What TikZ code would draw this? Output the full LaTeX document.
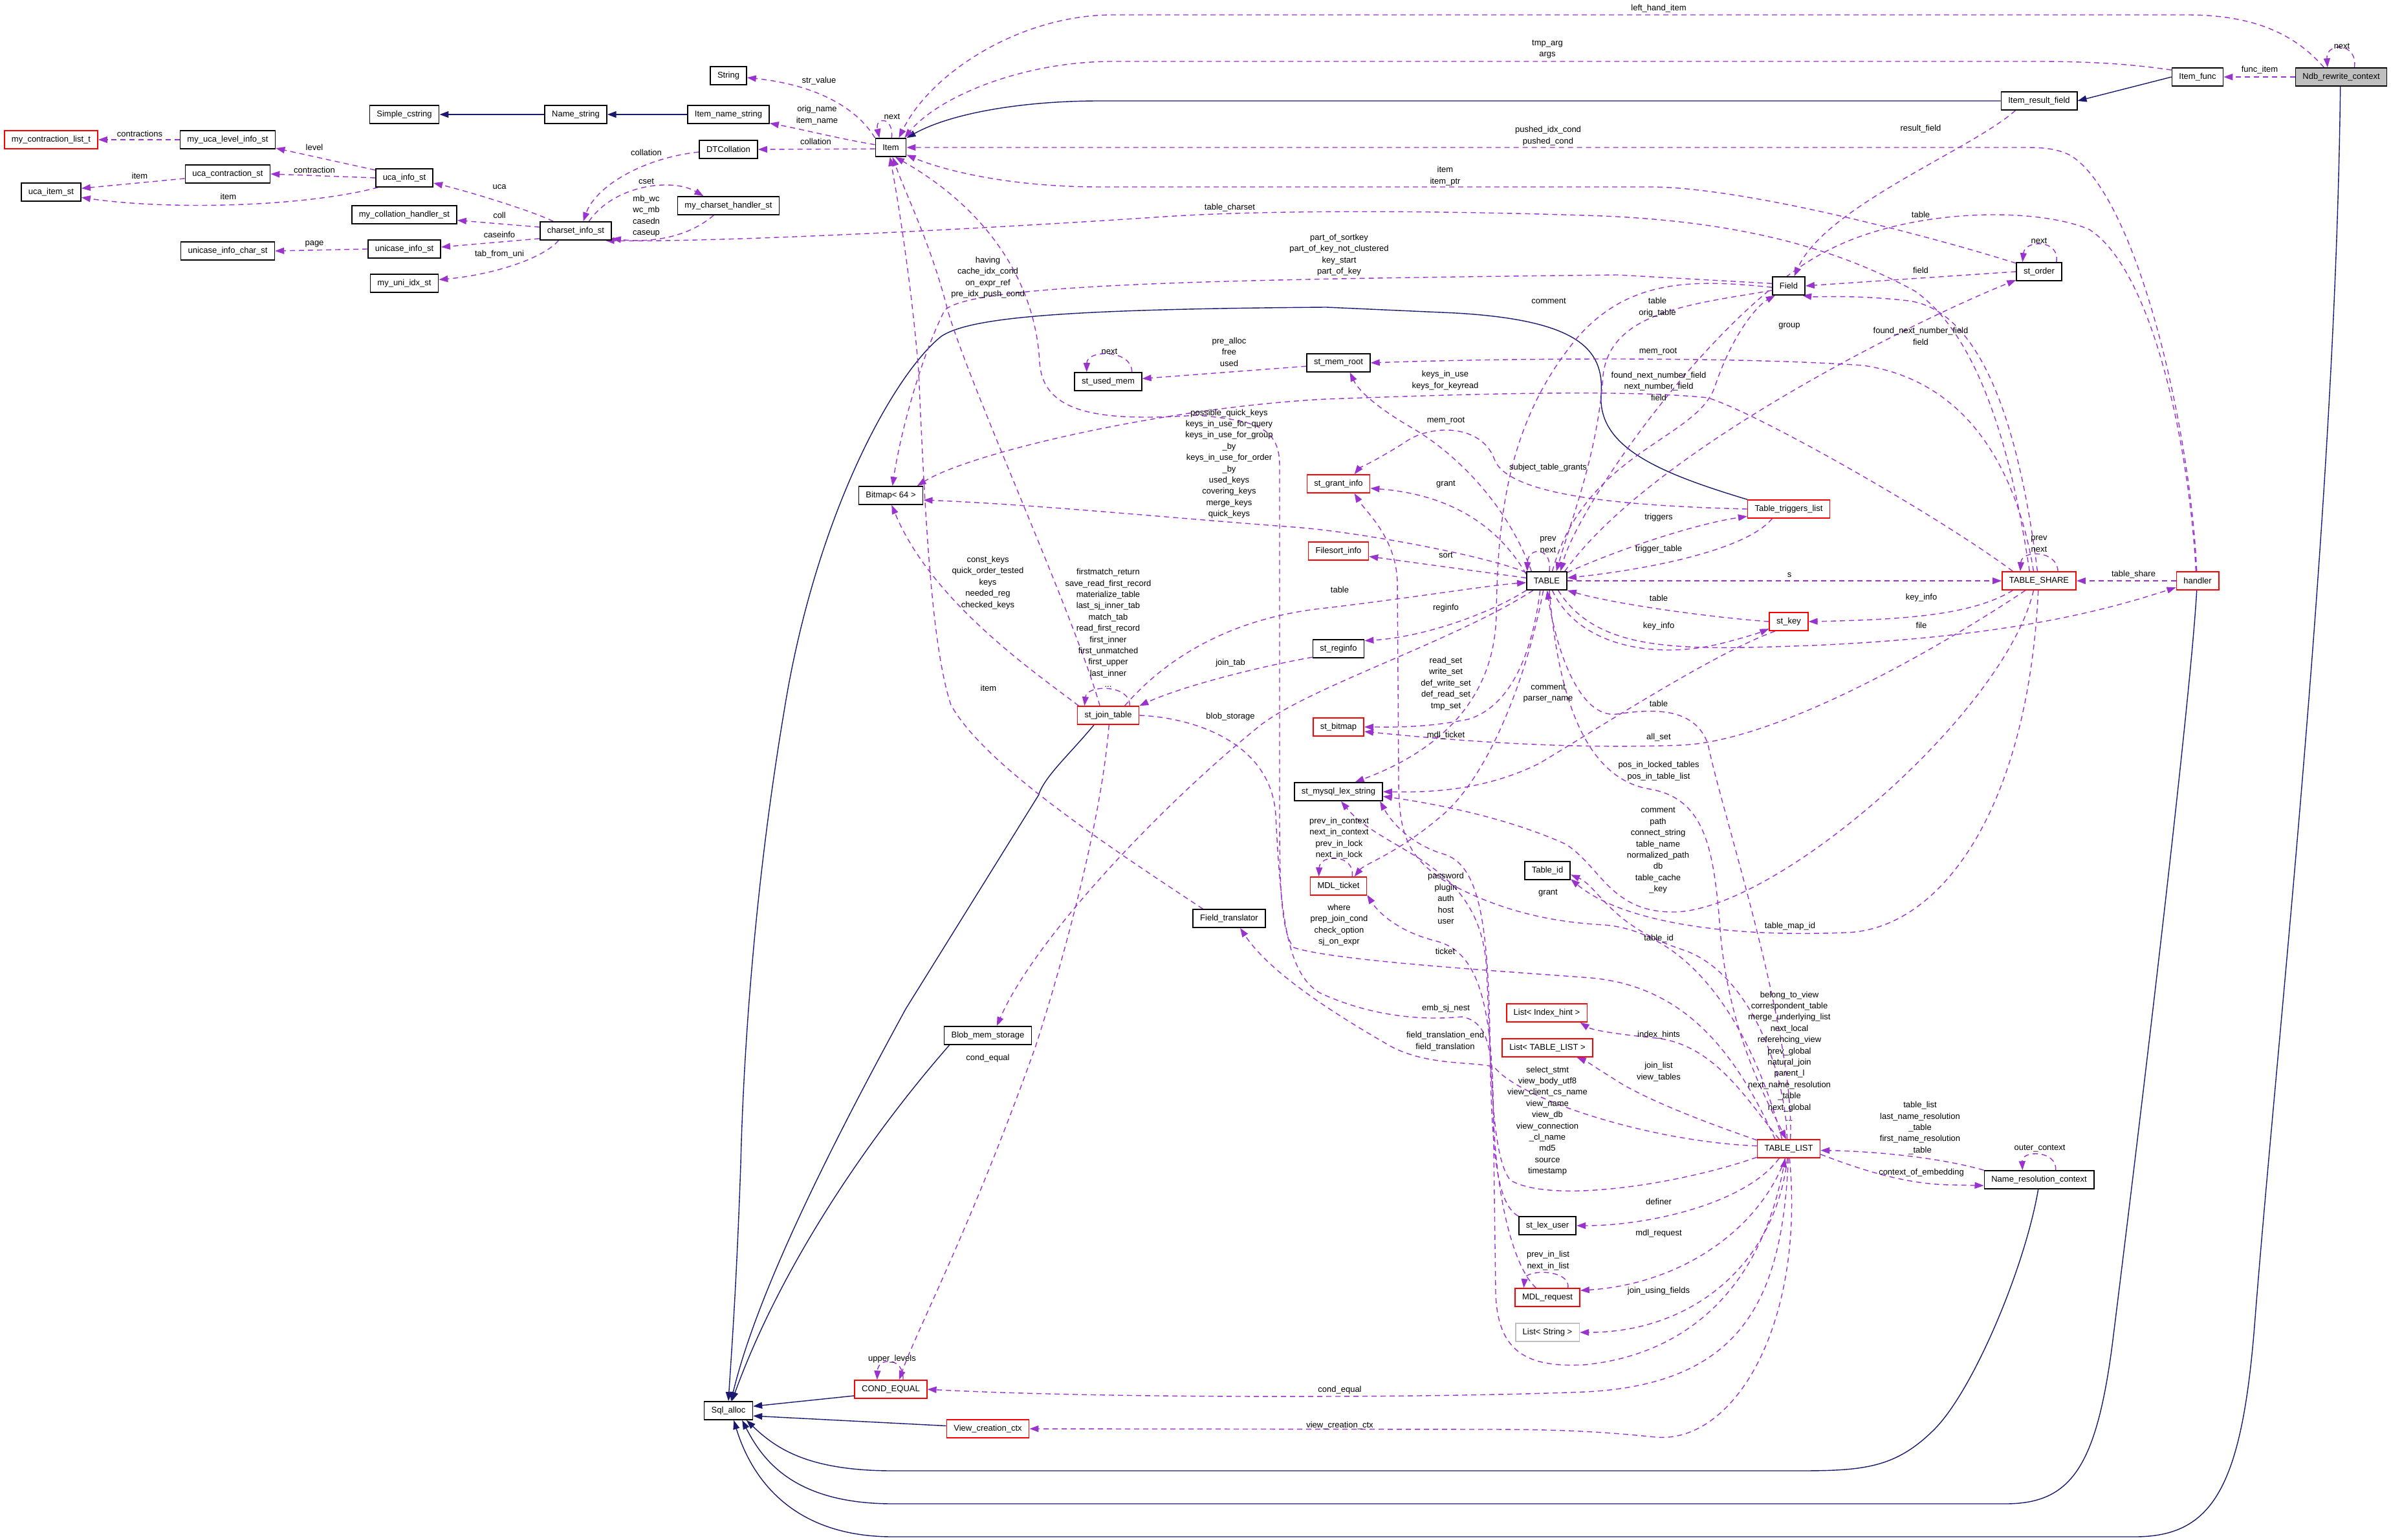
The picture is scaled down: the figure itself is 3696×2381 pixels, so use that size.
\documentclass[tikz,border=0pt]{standalone}
\usepackage{fontspec}
\setmainfont{Liberation Sans}
\usetikzlibrary{arrows.meta}
\pgfdeclarelayer{bg}
\pgfsetlayers{bg,main}
\definecolor{purp}{HTML}{9A32CD}
\definecolor{inhc}{HTML}{191970}
\definecolor{redb}{HTML}{FF0000}
\definecolor{grayb}{HTML}{BFBFBF}
\newcommand\dxf{\fontsize{6.5pt}{8.7pt}\selectfont}
\tikzset{
  cls/.style={draw=black, line width=0.8pt, fill=white, font=\dxf, inner xsep=5.5pt, inner ysep=0pt, minimum height=14pt},
  rcls/.style={cls, draw=redb},
  pe/.style={draw=purp, line width=0.7pt, dash pattern=on 4pt off 3pt, -{Triangle[length=7pt,width=5pt]}},
  ih/.style={draw=inhc, line width=0.7pt, -{Triangle[length=7pt,width=5pt]}},
  lb/.style={font=\dxf, align=center, inner sep=0pt},
}
\begin{document}
\begin{tikzpicture}[x=0.5pt,y=-0.5pt]
\path[use as bounding box] (0,0) rectangle (3696,2381);
% ---------------- nodes ----------------
\node[cls] (Str) at (1126,117) {String};
\node[cls] (SimpleC) at (625,177) {Simple\_cstring};
\node[cls] (NameS) at (890,177) {Name\_string};
\node[cls] (ItemNS) at (1126,177) {Item\_name\_string};
\node[cls] (Item) at (1377,228) {Item};
\node[rcls] (MyContr) at (79,216) {my\_contraction\_list\_t};
\node[cls] (MyUcaLvl) at (352,216) {my\_uca\_level\_info\_st};
\node[cls] (UcaContr) at (352,269) {uca\_contraction\_st};
\node[cls] (UcaItem) at (79,297) {uca\_item\_st};
\node[cls] (UcaInfo) at (625,275) {uca\_info\_st};
\node[cls] (DTColl) at (1126,231) {DTCollation};
\node[cls] (MyCsH) at (1126,318) {my\_charset\_handler\_st};
\node[cls] (CsInfo) at (890,357) {charset\_info\_st};
\node[cls] (MyCollH) at (625,332) {my\_collation\_handler\_st};
\node[cls] (UniInfo) at (625,385) {unicase\_info\_st};
\node[cls] (UniChar) at (352,388) {unicase\_info\_char\_st};
\node[cls] (MyUniIdx) at (625,438) {my\_uni\_idx\_st};
\node[cls, fill=grayb] (Ndb) at (3619,119) {Ndb\_rewrite\_context};
\node[cls] (ItemFunc) at (3397,119) {Item\_func};
\node[cls] (ItemRF) at (3152,156) {Item\_result\_field};
\node[cls] (Field) at (2765,442) {Field};
\node[cls] (StOrder) at (3152,420) {st\_order};
\node[cls] (StUsedMem) at (1713,590) {st\_used\_mem};
\node[cls] (Bitmap) at (1377,766) {Bitmap< 64 >};
\node[cls] (StMemRoot) at (2069,561) {st\_mem\_root};
\node[rcls] (StGrant) at (2069,748) {st\_grant\_info};
\node[rcls] (Filesort) at (2069,852) {Filesort\_info};
\node[cls] (StReginfo) at (2069,1003) {st\_reginfo};
\node[cls] (TABLE) at (2391,898) {TABLE};
\node[rcls] (TTL) at (2765,787) {Table\_triggers\_list};
\node[rcls] (StKey) at (2765,961) {st\_key};
\node[rcls] (TS) at (3152,898) {TABLE\_SHARE};
\node[rcls] (Handler) at (3397,898) {handler};
\node[rcls] (SJT) at (1713,1106) {st\_join\_table};
\node[cls] (FTr) at (1900,1420) {Field\_translator};
\node[cls] (Blob) at (1527,1601) {Blob\_mem\_storage};
\node[rcls] (StBitmap) at (2069,1124) {st\_bitmap};
\node[cls] (LexStr) at (2069,1224) {st\_mysql\_lex\_string};
\node[rcls] (MDLt) at (2069,1370) {MDL\_ticket};
\node[cls] (TableId) at (2392,1346) {Table\_id};
\node[rcls] (LIH) at (2391,1566) {List< Index\_hint >};
\node[rcls] (LTL) at (2392,1620) {List< TABLE\_LIST >};
\node[rcls] (TL) at (2765,1776) {TABLE\_LIST};
\node[cls] (LexUser) at (2392,1895) {st\_lex\_user};
\node[rcls] (MDLr) at (2392,2006) {MDL\_request};
\node[cls, draw=grayb] (LStr) at (2392,2060) {List< String >};
\node[cls] (NRC) at (3152,1824) {Name\_resolution\_context};
\node[cls] (SqlAlloc) at (1126,2181) {Sql\_alloc};
\node[rcls] (CondEq) at (1377,2148) {COND\_EQUAL};
\node[rcls] (VCC) at (1527,2209) {View\_creation\_ctx};

\begin{pgfonlayer}{bg}
\fill[white] (0,0) rectangle (3696,2381);
% ---------------- inheritance ----------------
\draw[ih] (NameS.west) -- (SimpleC.east);
\draw[ih] (ItemNS.west) -- (NameS.east);
\draw[ih] (ItemRF.west) -- (1700,156) .. controls (1580,156) and (1470,175) .. (Item.north east);
\draw[ih] (ItemFunc.west) -- (ItemRF.east);
\draw[ih] (TTL.north west) .. controls (2560,730) and (2470,690) .. (2475,610) .. controls (2480,540) and (2440,495) .. (2250,484) -- (2050,475) .. controls (1650,478) and (1500,490) .. (1455,520) .. controls (1380,580) and (1260,800) .. (1212,1100) .. controls (1170,1350) and (1150,1600) .. (1145,1800) .. controls (1138,2000) and (1130,2100) .. (SqlAlloc.north);
\draw[ih] (SJT.214) .. controls (1650,1170) and (1615,1200) .. (1605,1230) -- (1400,1560) .. controls (1280,1780) and (1170,2000) .. (SqlAlloc.75);
\draw[ih] (Blob.194) .. controls (1350,1750) and (1210,1950) .. (SqlAlloc.70);
\draw[ih] (CondEq.190) -- (SqlAlloc.10);
\draw[ih] (VCC.176) -- (SqlAlloc.-12);
\draw[ih] (NRC.-95) .. controls (3130,1960) and (3050,2150) .. (2990,2210) .. controls (2930,2270) and (2880,2274) .. (2780,2274) -- (1380,2274) .. controls (1250,2274) and (1200,2240) .. (SqlAlloc.-28);
\draw[ih] (Handler.-95) .. controls (3385,1100) and (3300,1800) .. (3265,2080) .. controls (3240,2270) and (3200,2325) .. (3100,2325) -- (1380,2325) .. controls (1230,2325) and (1180,2260) .. (SqlAlloc.-35);
\draw[ih] (Ndb.-95) .. controls (3610,800) and (3520,1600) .. (3485,2050) .. controls (3465,2300) and (3420,2376) .. (3300,2376) -- (1380,2376) .. controls (1220,2376) and (1160,2280) .. (SqlAlloc.-61);
% ---------------- usage: top-left cluster ----------------
\draw[pe] (MyUcaLvl.west) -- (MyContr.east);
\draw[pe] (UcaInfo.165) -- (MyUcaLvl.-10);
\draw[pe] (UcaInfo.west) -- (UcaContr.east);
\draw[pe] (UcaContr.186) -- (UcaItem.7);
\draw[pe] (UcaInfo.200) .. controls (470,320) and (260,325) .. (UcaItem.-10);
\draw[pe] (CsInfo.157) .. controls (820,325) and (720,295) .. (UcaInfo.-10);
\draw[pe] (CsInfo.174) -- (MyCollH.-6);
\draw[pe] (CsInfo.192) -- (UniInfo.3);
\draw[pe] (UniInfo.west) -- (UniChar.east);
\draw[pe] (CsInfo.209) .. controls (840,400) and (760,425) .. (MyUniIdx.6);
\draw[pe] (DTColl.185) .. controls (990,245) and (920,290) .. (CsInfo.52);
\draw[pe] (CsInfo.36) .. controls (950,285) and (1040,275) .. (MyCsH.159);
\draw[pe] (MyCsH.213) .. controls (1060,370) and (1000,375) .. (CsInfo.-12);
\draw[pe] (TS.135) .. controls (3110,700) and (3060,520) .. (2960,450) .. controls (2850,390) and (2700,340) .. (2450,333) .. controls (2200,325) and (1950,325) .. (1800,335) .. controls (1500,355) and (1100,375) .. (CsInfo.-18);
% ---------------- Item ----------------
\draw[pe] (Item.north west) .. controls (1320,160) and (1250,130) .. (Str.-6);
\draw[pe] (Item.170) .. controls (1300,215) and (1240,200) .. (ItemNS.-12);
\draw[pe] (Item.185) -- (DTColl.east);
\draw[pe] (Item.85) .. controls (1382,180) and (1352,180) .. (Item.140);
\draw[pe] (Ndb.151) .. controls (3545,50) and (3480,23) .. (3380,23) -- (1720,23) .. controls (1580,23) and (1440,110) .. (Item.50);
\draw[pe] (ItemFunc.165) .. controls (3300,100) and (3240,95) .. (3150,95) -- (1720,95) .. controls (1580,95) and (1450,150) .. (Item.35);
\draw[pe] (Ndb.west) -- (ItemFunc.east);
\draw[pe] (Ndb.36) .. controls (3645,65) and (3595,65) .. (Ndb.145);
\draw[pe] (Handler.95) .. controls (3385,650) and (3300,300) .. (3200,240) .. controls (3180,230) and (3160,228) .. (3130,228) -- (Item.east);
\draw[pe] (StOrder.160) .. controls (3000,370) and (2700,289) .. (2550,289) -- (1700,289) .. controls (1550,289) and (1450,260) .. (Item.-25);
\draw[pe] (SJT.131) .. controls (1660,950) and (1500,600) .. (1465,480) .. controls (1440,380) and (1400,300) .. (Item.-80);
\draw[pe] (FTr.160) .. controls (1700,1300) and (1520,1180) .. (1470,1090) .. controls (1440,1000) and (1430,800) .. (1420,574) .. controls (1410,450) and (1390,320) .. (Item.-95);
\draw[pe] (TL.145) .. controls (2680,1620) and (2600,1525) .. (2460,1512) .. controls (2300,1500) and (2060,1485) .. (2000,1465) .. controls (1978,1440) and (1978,1350) .. (1978,1250) -- (1978,720) .. controls (1978,660) and (1940,650) .. (1850,642) .. controls (1700,652) and (1612,640) .. (1607,560) .. controls (1600,430) and (1520,320) .. (Item.-65);
% ---------------- Field / st_order ----------------
\draw[pe] (ItemRF.202) .. controls (3050,230) and (2820,320) .. (Field.60);
\draw[pe] (StOrder.west) -- (Field.east);
\draw[pe] (StOrder.29) .. controls (3185,370) and (3130,370) .. (StOrder.150);
\draw[pe] (TABLE.28) .. controls (2550,700) and (2950,500) .. (StOrder.200);
\draw[pe] (Field.195) .. controls (2620,470) and (2490,480) .. (2478,580) .. controls (2470,700) and (2430,800) .. (TABLE.45);
\draw[pe] (TABLE.60) .. controls (2450,700) and (2620,680) .. (2650,600) .. controls (2680,510) and (2720,470) .. (Field.215);
\draw[pe] (TS.100) .. controls (3120,650) and (3060,480) .. (2950,465) .. controls (2860,455) and (2810,460) .. (Field.325);
\draw[pe] (Field.172) -- (2500,425) .. controls (1900,432) and (1500,438) .. (1460,480) .. controls (1420,560) and (1390,680) .. (Bitmap.80);
\draw[pe] (Field.185) .. controls (2620,432) and (2520,430) .. (2440,520) .. controls (2330,650) and (2315,800) .. (2313,950) .. controls (2310,1100) and (2200,1170) .. (LexStr.30);
% ---------------- TABLE ----------------
\draw[pe] (TABLE.75) .. controls (2400,845) and (2362,845) .. (TABLE.154);
\draw[pe] (TABLE.148) .. controls (2330,780) and (2250,700) .. (2180,660) .. controls (2120,625) and (2098,600) .. (StMemRoot.-40);
\draw[pe] (TS.120) .. controls (3120,740) and (3050,590) .. (2880,565) .. controls (2700,552) and (2350,553) .. (StMemRoot.east);
\draw[pe] (StMemRoot.186) -- (StUsedMem.5);
\draw[pe] (StUsedMem.22) .. controls (1750,540) and (1680,540) .. (StUsedMem.156);
\draw[pe] (TTL.west) .. controls (2500,782) and (2330,765) .. (2310,710) .. controls (2290,655) and (2210,655) .. (2170,685) .. controls (2130,710) and (2100,725) .. (StGrant.31);
\draw[pe] (TABLE.162) .. controls (2320,820) and (2250,765) .. (StGrant.-8);
\draw[pe] (TABLE.172) -- (Filesort.-10);
\draw[pe] (TABLE.205) .. controls (2300,950) and (2200,985) .. (StReginfo.17);
\draw[pe] (TABLE.235) .. controls (2370,1000) and (2340,1090) .. (2270,1112) .. controls (2200,1126) and (2150,1124) .. (StBitmap.east);
\draw[pe] (TS.215) .. controls (3000,1000) and (2750,1145) .. (2600,1152) .. controls (2400,1160) and (2200,1140) .. (StBitmap.-10);
\draw[pe] (TABLE.250) .. controls (2360,1050) and (2300,1200) .. (2230,1260) .. controls (2160,1320) and (2110,1335) .. (MDLt.31);
\draw[pe] (TABLE.22) .. controls (2500,850) and (2620,810) .. (TTL.190);
\draw[pe] (TTL.210) .. controls (2700,850) and (2550,880) .. (TABLE.8);
\draw[pe] (TABLE.east) -- (TS.west);
\draw[pe] (StKey.180) .. controls (2650,955) and (2500,935) .. (TABLE.-25);
\draw[pe] (TABLE.-60) .. controls (2440,1000) and (2560,1020) .. (2660,995) .. controls (2700,985) and (2720,978) .. (StKey.200);
\draw[pe] (TS.200) .. controls (3050,950) and (2950,958) .. (StKey.east);
\draw[pe] (Handler.west) -- (TS.east);
\draw[pe] (TABLE.-40) .. controls (2470,1010) and (2600,1005) .. (2800,998) .. controls (3100,985) and (3250,945) .. (Handler.197);
\draw[pe] (Handler.100) .. controls (3385,700) and (3330,420) .. (3230,355) .. controls (3150,320) and (2950,320) .. (2820,390) .. controls (2650,480) and (2440,780) .. (TABLE.35);
\draw[pe] (TS.27) .. controls (3180,850) and (3125,850) .. (TS.153);
\draw[pe] (TABLE.158) .. controls (2300,860) and (2100,822) .. (2000,815) .. controls (1800,800) and (1600,780) .. (Bitmap.-8);
\draw[pe] (TS.160) .. controls (3000,800) and (2720,640) .. (2640,615) .. controls (2500,600) and (2200,612) .. (2050,617) .. controls (1800,630) and (1500,700) .. (Bitmap.20);
\draw[pe] (TABLE.215) .. controls (2250,990) and (2030,1060) .. (1950,1120) .. controls (1800,1240) and (1600,1450) .. (Blob.47);
% ---------------- st_join_table ----------------
\draw[pe] (SJT.162) .. controls (1600,1040) and (1440,930) .. (Bitmap.-85);
\draw[pe] (SJT.24) .. controls (1748,1058) and (1680,1058) .. (SJT.158);
\draw[pe] (StReginfo.198) .. controls (1950,1030) and (1830,1060) .. (SJT.north east);
\draw[pe] (SJT.30) .. controls (1800,1020) and (1900,955) .. (2050,940) .. controls (2200,922) and (2300,905) .. (TABLE.185);
\draw[pe] (SJT.-85) .. controls (1700,1300) and (1620,1560) .. (1600,1620) .. controls (1500,1900) and (1420,2050) .. (CondEq.49);
\draw[pe] (CondEq.38) .. controls (1398,2098) and (1357,2098) .. (CondEq.145);
\draw[pe] (SJT.0) .. controls (1850,1110) and (1965,1150) .. (1972,1260) .. controls (1980,1420) and (1990,1505) .. (2040,1535) .. controls (2120,1572) and (2200,1578) .. (2260,1572) .. controls (2300,1580) and (2306,1620) .. (2308,1700) -- (2312,2000) .. controls (2315,2090) and (2360,2115) .. (2450,2110) .. controls (2600,2095) and (2720,2000) .. (TL.-110);
% ---------------- lex strings / MDL ----------------
\draw[pe] (StKey.215) .. controls (2650,1010) and (2480,1120) .. (2380,1180) .. controls (2290,1225) and (2200,1225) .. (LexStr.0);
\draw[pe] (TS.240) .. controls (3100,1100) and (2750,1405) .. (2590,1410) .. controls (2490,1412) and (2475,1340) .. (2420,1305) .. controls (2320,1260) and (2200,1240) .. (LexStr.-6);
\draw[pe] (LexUser.north west) .. controls (2310,1860) and (2305,1760) .. (2303,1600) .. controls (2300,1420) and (2285,1335) .. (2230,1320) .. controls (2180,1305) and (2150,1270) .. (LexStr.-13);
\draw[pe] (TL.195) .. controls (2600,1830) and (2400,1862) .. (2335,1825) .. controls (2305,1790) and (2305,1650) .. (2298,1500) .. controls (2290,1330) and (2140,1320) .. (LexStr.-75);
\draw[pe] (MDLr.140) .. controls (2340,1960) and (2310,1850) .. (2308,1700) .. controls (2305,1540) and (2280,1470) .. (2220,1455) .. controls (2160,1440) and (2130,1410) .. (MDLt.-17);
\draw[pe] (MDLt.35) .. controls (2095,1320) and (2040,1320) .. (MDLt.154);
\draw[pe] (MDLr.25) .. controls (2428,1962) and (2358,1962) .. (MDLr.158);
\draw[pe] (TL.125) .. controls (2700,1560) and (2600,1440) .. (2480,1430) .. controls (2380,1425) and (2300,1400) .. (2230,1360) .. controls (2170,1320) and (2162,1280) .. (2162,1200) -- (2160,900) .. controls (2158,830) and (2110,790) .. (StGrant.-31);
% ---------------- TABLE_LIST ----------------
\draw[pe] (TL.135) .. controls (2700,1700) and (2650,1615) .. (2560,1605) .. controls (2490,1598) and (2460,1592) .. (LIH.-16);
\draw[pe] (TL.165) .. controls (2650,1740) and (2540,1700) .. (2490,1665) .. controls (2465,1650) and (2455,1642) .. (LTL.-18);
\draw[pe] (TL.225) .. controls (2700,1860) and (2550,1895) .. (LexUser.east);
\draw[pe] (TL.250) .. controls (2720,1900) and (2600,1985) .. (MDLr.12);
\draw[pe] (TL.262) .. controls (2745,1950) and (2620,2060) .. (LStr.east);
\draw[pe] (TL.268) .. controls (2755,2000) and (2700,2140) .. (2450,2152) .. controls (2200,2162) and (1700,2162) .. (CondEq.east);
\draw[pe] (TL.275) .. controls (2790,2050) and (2680,2232) .. (2560,2222) .. controls (2480,2214) and (2420,2210) .. (2300,2210) -- (VCC.east);
\draw[pe] (TL.-10) .. controls (2880,1810) and (2950,1832) .. (3020,1832) -- (NRC.186);
\draw[pe] (NRC.north west) .. controls (3000,1790) and (2900,1780) .. (TL.-3);
\draw[pe] (NRC.30) .. controls (3180,1778) and (3125,1778) .. (NRC.150);
\draw[pe] (TL.100) .. controls (2760,1650) and (2700,1500) .. (2600,1468) .. controls (2490,1432) and (2470,1370) .. (TableId.-10);
\draw[pe] (TS.265) .. controls (3135,1250) and (3000,1440) .. (2850,1442) .. controls (2650,1450) and (2500,1420) .. (TableId.-20);
\draw[pe] (TABLE.-75) .. controls (2410,1100) and (2460,1205) .. (2550,1220) .. controls (2640,1235) and (2650,1320) .. (2660,1450) .. controls (2675,1600) and (2730,1700) .. (TL.105);
\draw[pe] (TL.80) .. controls (2775,1600) and (2660,1250) .. (2640,1150) .. controls (2620,1095) and (2560,1095) .. (2500,1104) .. controls (2440,1112) and (2405,1000) .. (TABLE.-88);
\draw[pe] (TL.175) .. controls (2550,1765) and (2350,1700) .. (2310,1650) .. controls (2280,1640) and (2200,1650) .. (2140,1612) .. controls (2050,1560) and (1960,1500) .. (FTr.-41);
\end{pgfonlayer}

% ---------------- labels ----------------
\node[lb] (l1) at (216,207) {contractions};
\node[lb] (l2) at (486,228) {level};
\node[lb] (l3) at (486,263) {contraction};
\node[lb] (l4) at (216,272) {item};
\node[lb] (l5) at (353,304) {item};
\node[lb] (l6) at (772,289) {uca};
\node[lb] (l7) at (772,333) {coll};
\node[lb] (l8) at (772,363) {caseinfo};
\node[lb] (l9) at (486,377) {page};
\node[lb] (l10) at (772,393) {tab\_from\_uni};
\node[lb] (l11) at (999,236) {collation};
\node[lb] (l12) at (999,280) {cset};
\node[lb] (l13) at (999,334) {mb\_wc\\wc\_mb\\casedn\\caseup};
\node[lb] (l14) at (1266,125) {str\_value};
\node[lb] (l15) at (1263,178) {orig\_name\\item\_name};
\node[lb] (l16) at (1261,219) {collation};
\node[lb] (l17) at (1379,180) {next};
\node[lb] (l18) at (2564,13) {left\_hand\_item};
\node[lb] (l19) at (2392,76) {tmp\_arg\\args};
\node[lb] (l20) at (3620,71) {next};
\node[lb] (l21) at (3493,108) {func\_item};
\node[lb] (l22) at (2969,199) {result\_field};
\node[lb] (l23) at (2393,210) {pushed\_idx\_cond\\pushed\_cond};
\node[lb] (l24) at (2234,272) {item\\item\_ptr};
\node[lb] (l25) at (2969,332) {table};
\node[lb] (l26) at (1901,321) {table\_charset};
\node[lb] (l27) at (3152,372) {next};
\node[lb] (l28) at (2070,394) {part\_of\_sortkey\\part\_of\_key\_not\_clustered\\key\_start\\part\_of\_key};
\node[lb] (l29) at (2969,418) {field};
\node[lb] (l30) at (1527,429) {having\\cache\_idx\_cond\\on\_expr\_ref\\pre\_idx\_push\_cond};
\node[lb] (l31) at (2394,465) {comment};
\node[lb] (l32) at (2562,475) {table\\orig\_table};
\node[lb] (l33) at (2766,504) {group};
\node[lb] (l34) at (1900,544) {pre\_alloc\\free\\used};
\node[lb] (l35) at (1715,543) {next};
\node[lb] (l36) at (2563,544) {mem\_root};
\node[lb] (l37) at (2234,588) {keys\_in\_use\\keys\_for\_keyread};
\node[lb] (l38) at (2564,597) {found\_next\_number\_field\\next\_number\_field\\field};
\node[lb] (l39) at (2969,520) {found\_next\_number\_field\\field};
\node[lb] (l40) at (2235,651) {mem\_root};
\node[lb] (l41) at (1900,717) {possible\_quick\_keys\\keys\_in\_use\_for\_query\\keys\_in\_use\_for\_group\\\_by\\keys\_in\_use\_for\_order\\\_by\\used\_keys\\covering\_keys\\merge\_keys\\quick\_keys};
\node[lb] (l42) at (2393,723) {subject\_table\_grants};
\node[lb] (l43) at (2235,749) {grant};
\node[lb] (l44) at (2564,800) {triggers};
\node[lb] (l45) at (2393,842) {prev\\next};
\node[lb] (l46) at (3152,841) {prev\\next};
\node[lb] (l47) at (2235,858) {sort};
\node[lb] (l48) at (2564,849) {trigger\_table};
\node[lb] (l49) at (3298,888) {table\_share};
\node[lb] (l50) at (2766,889) {s};
\node[lb] (l51) at (1527,901) {const\_keys\\quick\_order\_tested\\keys\\needed\_reg\\checked\_keys};
\node[lb] (l52) at (2071,912) {table};
\node[lb] (l53) at (2564,925) {table};
\node[lb] (l54) at (2970,924) {key\_info};
\node[lb] (l55) at (2235,940) {reginfo};
\node[lb] (l56) at (1713,971) {firstmatch\_return\\save\_read\_first\_record\\materialize\_table\\last\_sj\_inner\_tab\\match\_tab\\read\_first\_record\\first\_inner\\first\_unmatched\\first\_upper\\last\_inner\\...};
\node[lb] (l57) at (2970,967) {file};
\node[lb] (l58) at (2564,968) {key\_info};
\node[lb] (l59) at (1902,1025) {join\_tab};
\node[lb] (l60) at (2235,1057) {read\_set\\write\_set\\def\_write\_set\\def\_read\_set\\tmp\_set};
\node[lb] (l61) at (1528,1064) {item};
\node[lb] (l62) at (2393,1072) {comment\\parser\_name};
\node[lb] (l63) at (2564,1088) {table};
\node[lb] (l64) at (1902,1108) {blob\_storage};
\node[lb] (l65) at (2235,1137) {mdl\_ticket};
\node[lb] (l66) at (2564,1140) {all\_set};
\node[lb] (l67) at (2564,1192) {pos\_in\_locked\_tables\\pos\_in\_table\_list};
\node[lb] (l68) at (2070,1296) {prev\_in\_context\\next\_in\_context\\prev\_in\_lock\\next\_in\_lock};
\node[lb] (l69) at (2563,1315) {comment\\path\\connect\_string\\table\_name\\normalized\_path\\db\\table\_cache\\\_key};
\node[lb] (l70) at (2235,1389) {password\\plugin\\auth\\host\\user};
\node[lb] (l71) at (2393,1381) {grant};
\node[lb] (l72) at (2070,1430) {where\\prep\_join\_cond\\check\_option\\sj\_on\_expr};
\node[lb] (l73) at (2767,1432) {table\_map\_id};
\node[lb] (l74) at (2564,1451) {table\_id};
\node[lb] (l75) at (2234,1471) {ticket};
\node[lb] (l76) at (2235,1559) {emb\_sj\_nest};
\node[lb] (l77) at (2766,1633) {belong\_to\_view\\correspondent\_table\\merge\_underlying\_list\\next\_local\\referencing\_view\\prev\_global\\natural\_join\\parent\_l\\next\_name\_resolution\\\_table\\next\_global\\...};
\node[lb] (l78) at (2234,1610) {field\_translation\_end\\field\_translation};
\node[lb] (l79) at (2564,1600) {index\_hints};
\node[lb] (l80) at (2564,1657) {join\_list\\view\_tables};
\node[lb] (l81) at (1527,1636) {cond\_equal};
\node[lb] (l82) at (2392,1733) {select\_stmt\\view\_body\_utf8\\view\_client\_cs\_name\\view\_name\\view\_db\\view\_connection\\\_cl\_name\\md5\\source\\timestamp};
\node[lb] (l83) at (2968,1744) {table\_list\\last\_name\_resolution\\\_table\\first\_name\_resolution\\\_table};
\node[lb] (l84) at (3153,1776) {outer\_context};
\node[lb] (l85) at (2970,1813) {context\_of\_embedding};
\node[lb] (l86) at (2564,1858) {definer};
\node[lb] (l87) at (2564,1907) {mdl\_request};
\node[lb] (l88) at (2393,1949) {prev\_in\_list\\next\_in\_list};
\node[lb] (l89) at (2564,1996) {join\_using\_fields};
\node[lb] (l90) at (1379,2101) {upper\_levels};
\node[lb] (l91) at (2071,2149) {cond\_equal};
\node[lb] (l92) at (2071,2204) {view\_creation\_ctx};
\end{tikzpicture}
\end{document}
